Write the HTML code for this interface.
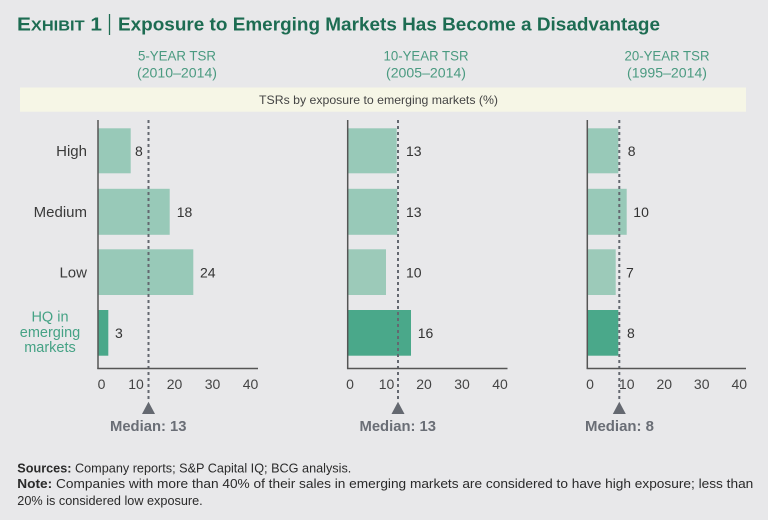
<!DOCTYPE html>
<html><head><meta charset="utf-8"><style>
html,body{margin:0;padding:0;background:#e8e8ea;}
svg{display:block;}
text{font-family:"Liberation Sans",sans-serif;}
</style></head><body>
<svg width="768" height="520" viewBox="0 0 768 520" xmlns="http://www.w3.org/2000/svg">
<rect width="768" height="520" fill="#e8e8ea"/>
<!-- Title -->
<text x="17" y="30.5" fill="#1d6c52" font-weight="bold" font-size="18.5" textLength="85" lengthAdjust="spacingAndGlyphs"><tspan>E</tspan><tspan font-size="14.5">XHIBIT</tspan><tspan> 1</tspan></text>
<line x1="109.5" y1="14" x2="109.5" y2="35" stroke="#1d6c52" stroke-width="1.3"/>
<text x="118" y="30.5" fill="#1d6c52" font-weight="bold" font-size="18.5" textLength="542" lengthAdjust="spacingAndGlyphs">Exposure to Emerging Markets Has Become a Disadvantage</text>
<!-- Subtitles -->
<g fill="#4a9a80" font-size="13.5" text-anchor="middle">
<text x="177" y="60.5" textLength="78" lengthAdjust="spacingAndGlyphs">5-YEAR TSR</text>
<text x="177" y="77.5" textLength="80" lengthAdjust="spacingAndGlyphs">(2010–2014)</text>
<text x="426" y="60.5" textLength="85" lengthAdjust="spacingAndGlyphs">10-YEAR TSR</text>
<text x="426" y="77.5" textLength="80" lengthAdjust="spacingAndGlyphs">(2005–2014)</text>
<text x="667" y="60.5" textLength="85" lengthAdjust="spacingAndGlyphs">20-YEAR TSR</text>
<text x="667" y="77.5" textLength="80" lengthAdjust="spacingAndGlyphs">(1995–2014)</text>
</g>
<!-- Band -->
<rect x="20" y="87.5" width="726" height="24.2" fill="#f6f6e6"/>
<text x="378.5" y="104" fill="#444" font-size="12" text-anchor="middle" textLength="239" lengthAdjust="spacingAndGlyphs">TSRs by exposure to emerging markets (%)</text>

<!-- Category labels -->
<g fill="#3a3a3a" font-size="15" text-anchor="end">
<text x="87" y="156">High</text>
<text x="87" y="217">Medium</text>
<text x="87" y="277.5">Low</text>
</g>
<g fill="#45a285" font-size="14.5" text-anchor="middle">
<text x="50" y="321.5">HQ in</text>
<text x="50" y="337">emerging</text>
<text x="50" y="352">markets</text>
</g>

<!-- Panel 1 -->
<g>
<rect x="98" y="128.3" width="32.7" height="45" fill="#98c9b8"/>
<rect x="98" y="188.8" width="71.7" height="46" fill="#98c9b8"/>
<rect x="98" y="249.3" width="95.3" height="45.7" fill="#98c9b8"/>
<rect x="98" y="310" width="10.3" height="45.7" fill="#4aa88a"/>
<line x1="148.5" y1="120" x2="148.5" y2="399" stroke="#646870" stroke-width="2" stroke-dasharray="3,3"/>
<line x1="98" y1="120" x2="98" y2="369" stroke="#555" stroke-width="1.5"/>
<line x1="97.3" y1="368.5" x2="258" y2="368.5" stroke="#555" stroke-width="1.5"/>
<g fill="#333" font-size="14">
<text x="135" y="156">8</text>
<text x="176.7" y="217">18</text>
<text x="200" y="277.5">24</text>
<text x="115" y="338">3</text>
</g>
<g fill="#444" font-size="14" text-anchor="middle">
<text x="101.5" y="389">0</text>
<text x="136" y="389">10</text>
<text x="174.5" y="389">20</text>
<text x="212.5" y="389">30</text>
<text x="250.5" y="389">40</text>
</g>
<polygon points="148.5,401.7 142,414 155,414" fill="#646870"/>
<text x="110" y="431" fill="#6a6e76" font-weight="bold" font-size="15" textLength="76.5" lengthAdjust="spacingAndGlyphs">Median: 13</text>
</g>

<!-- Panel 2 -->
<g>
<rect x="347.7" y="128.3" width="49" height="45" fill="#98c9b8"/>
<rect x="347.7" y="188.8" width="49.6" height="46" fill="#98c9b8"/>
<rect x="347.7" y="249.3" width="38.3" height="45.7" fill="#9ccab9"/>
<rect x="347.7" y="310" width="63.3" height="45.7" fill="#4aa88a"/>
<line x1="398" y1="120" x2="398" y2="399" stroke="#646870" stroke-width="2" stroke-dasharray="3,3"/>
<line x1="347.7" y1="120" x2="347.7" y2="369" stroke="#555" stroke-width="1.5"/>
<line x1="347" y1="368.5" x2="507.5" y2="368.5" stroke="#555" stroke-width="1.5"/>
<g fill="#333" font-size="14">
<text x="406" y="156">13</text>
<text x="406" y="217">13</text>
<text x="406" y="277.5">10</text>
<text x="417.7" y="338">16</text>
</g>
<g fill="#444" font-size="14" text-anchor="middle">
<text x="350" y="389">0</text>
<text x="386.5" y="389">10</text>
<text x="424" y="389">20</text>
<text x="462" y="389">30</text>
<text x="500" y="389">40</text>
</g>
<polygon points="398,401.7 391.5,414 404.5,414" fill="#646870"/>
<text x="359.5" y="431" fill="#6a6e76" font-weight="bold" font-size="15" textLength="76.5" lengthAdjust="spacingAndGlyphs">Median: 13</text>
</g>

<!-- Panel 3 -->
<g>
<rect x="587.3" y="128.3" width="31" height="45" fill="#98c9b8"/>
<rect x="587.3" y="188.8" width="39.4" height="46" fill="#98c9b8"/>
<rect x="587.3" y="249.3" width="28.4" height="45.7" fill="#9ccab9"/>
<rect x="587.3" y="310" width="31" height="45.7" fill="#4aa88a"/>
<line x1="619.3" y1="120" x2="619.3" y2="399" stroke="#646870" stroke-width="2" stroke-dasharray="3,3"/>
<line x1="587.3" y1="120" x2="587.3" y2="369" stroke="#555" stroke-width="1.5"/>
<line x1="586.6" y1="368.5" x2="746" y2="368.5" stroke="#555" stroke-width="1.5"/>
<g fill="#333" font-size="14">
<text x="627.7" y="156">8</text>
<text x="633.3" y="217">10</text>
<text x="626" y="277.5">7</text>
<text x="627" y="338">8</text>
</g>
<g fill="#444" font-size="14" text-anchor="middle">
<text x="590" y="389">0</text>
<text x="626.7" y="389">10</text>
<text x="664.3" y="389">20</text>
<text x="701.7" y="389">30</text>
<text x="739.3" y="389">40</text>
</g>
<polygon points="619.3,401.7 612.8,414 625.8,414" fill="#646870"/>
<text x="585" y="431" fill="#6a6e76" font-weight="bold" font-size="15" textLength="69" lengthAdjust="spacingAndGlyphs">Median: 8</text>
</g>

<!-- Footnotes -->
<g fill="#2a2a2a" font-size="12.5">
<text x="17.3" y="472.5" textLength="334" lengthAdjust="spacingAndGlyphs"><tspan font-weight="bold">Sources:</tspan> Company reports; S&amp;P Capital IQ; BCG analysis.</text>
<text x="17.3" y="488" textLength="736" lengthAdjust="spacingAndGlyphs"><tspan font-weight="bold">Note:</tspan> Companies with more than 40% of their sales in emerging markets are considered to have high exposure; less than</text>
<text x="17.3" y="505" textLength="185.4" lengthAdjust="spacingAndGlyphs">20% is considered low exposure.</text>
</g>
</svg>
</body></html>
